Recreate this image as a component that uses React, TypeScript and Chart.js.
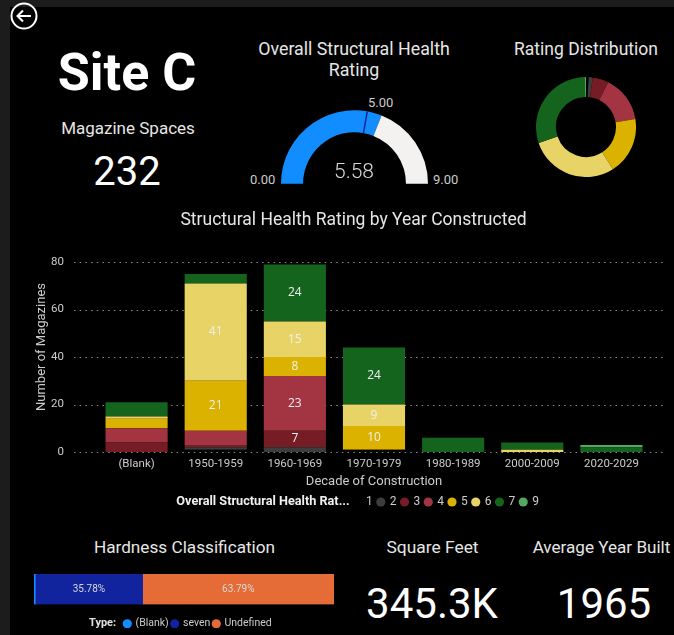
import React, { useEffect, useRef } from "react";
import { Chart, registerables } from "chart.js";

Chart.register(...registerables);

const decades = ["(Blank)", "1950-1959", "1960-1969", "1970-1979", "1980-1989", "2000-2009", "2020-2029"];
const rating1 = [0, 1, 0, 1, 0, 0, 0];
const rating2 = [0, 1, 2, 0, 0, 0, 0];
const rating3 = [4, 1, 7, 0, 0, 0, 0];
const rating4 = [6, 6, 23, 0, 0, 0, 0];
const rating5 = [4, 21, 8, 10, 0, 0, 0];
const rating6 = [1, 41, 15, 9, 0, 1, 0];
const rating7 = [6, 4, 24, 24, 6, 3, 2];
const rating9 = [0, 0, 0, 0, 0, 0, 1];
const ratingNames = ["1", "2", "3", "4", "5", "6", "7", "9"];
const ratingColors = ["#000000", "#3d3d3d", "#751c24", "#a33542", "#dbb200", "#e8d366", "#14641e", "#55a860"];
const distribution = [2, 3, 12, 35, 43, 67, 69, 1];
const gaugeValue = 5.58;
const gaugeMax = 9;
const gaugeTarget = 5;
const hardnessTypes = ["(Blank)", "seven", "Undefined"];
const hardnessValues = [0.43, 35.78, 63.79];
const hardnessColors = ["#118dff", "#12239e", "#e66c37"];

const FONT = "Roboto, sans-serif";
const TEXT = "#e6e6e6";

function barLabels(min: number, format: (v: number) => string, font: string, color: string) {
  return {
    id: "barLabels",
    afterDatasetsDraw(chart: any) {
      const ctx = chart.ctx;
      ctx.save();
      ctx.font = font;
      ctx.fillStyle = color;
      ctx.textAlign = "center";
      ctx.textBaseline = "middle";
      chart.data.datasets.forEach((ds: any, i: number) => {
        chart.getDatasetMeta(i).data.forEach((el: any, j: number) => {
          const v = ds.data[j];
          if (v >= min) {
            const p = el.getCenterPoint();
            ctx.fillText(format(v), p.x, p.y);
          }
        });
      });
      ctx.restore();
    },
  };
}

function shiftBoxes(legendDx: number, legendDy: number, titleDx: number, yTitleUp: number) {
  return {
    id: "shiftBoxes",
    afterLayout(chart: any) {
      chart.legend.left += legendDx;
      chart.legend.right += legendDx;
      chart.legend.top += legendDy;
      chart.legend.bottom += legendDy;
      if (chart.titleBlock) {
        chart.titleBlock.left += titleDx;
        chart.titleBlock.right += titleDx;
      }
      if (yTitleUp && chart.scales.y) chart.scales.y.bottom -= yTitleUp * 2;
    },
  };
}

const wideGrid = {
  id: "wideGrid",
  beforeDatasetsDraw(chart: any) {
    const ctx = chart.ctx;
    const y = chart.scales.y;
    ctx.save();
    ctx.strokeStyle = "#8c8c8c";
    ctx.lineWidth = 1;
    ctx.setLineDash([1.5, 4.2]);
    y.ticks.forEach((t: any) => {
      const py = Math.round(y.getPixelForValue(t.value)) + 0.5;
      ctx.beginPath();
      ctx.moveTo(74, py);
      ctx.lineTo(664, py);
      ctx.stroke();
    });
    ctx.restore();
  },
};

const gaugeMarker = {
  id: "gaugeMarker",
  afterDatasetsDraw(chart: any) {
    const arc = chart.getDatasetMeta(0).data[0];
    const a = Math.PI + (gaugeTarget / gaugeMax) * Math.PI;
    const ctx = chart.ctx;
    ctx.save();
    ctx.strokeStyle = "#12239e";
    ctx.lineWidth = 1.5;
    ctx.beginPath();
    ctx.moveTo(arc.x + Math.cos(a) * arc.innerRadius, arc.y + Math.sin(a) * arc.innerRadius);
    ctx.lineTo(arc.x + Math.cos(a) * arc.outerRadius, arc.y + Math.sin(a) * arc.outerRadius);
    ctx.stroke();
    ctx.restore();
  },
};

function useChart(make: (c: HTMLCanvasElement) => Chart) {
  const ref = useRef<HTMLCanvasElement>(null);
  useEffect(() => {
    const chart = make(ref.current as HTMLCanvasElement);
    return () => chart.destroy();
  }, []);
  return ref;
}

function Label(props: { x: number; y: number; size: number; text: string; weight?: number; color?: string; align?: string }) {
  const { x, y, size, text, weight = 400, color = TEXT, align = "center" } = props;
  const tx = align === "center" ? "-50%" : align === "right" ? "-100%" : "0";
  return (
    <div
      style={{
        position: "absolute",
        left: x,
        top: y,
        transform: `translate(${tx}, -50%)`,
        fontFamily: FONT,
        fontSize: size,
        fontWeight: weight,
        color,
        whiteSpace: "nowrap",
        lineHeight: 1,
      }}
    >
      {text}
    </div>
  );
}

const abs = (left: number, top: number): React.CSSProperties => ({ position: "absolute", left, top });

export default function App() {
  const mainRef = useChart((c) => {
    const series = [rating1, rating2, rating3, rating4, rating5, rating6, rating7, rating9];
    return new Chart(c, {
      type: "bar",
      data: {
        labels: decades,
        datasets: series.map((data, i) => ({
          label: ratingNames[i],
          data,
          backgroundColor: ratingColors[i],
          borderWidth: 0,
          categoryPercentage: 1,
          barPercentage: 0.785,
          clip: false,
        })),
      },
      plugins: [wideGrid, barLabels(7, (v) => String(v), "12px 'Open Sans', sans-serif", "#f0f0f0"), shiftBoxes(121, -2, 28, 10)],
      options: {
        animation: false,
        responsive: false,
        layout: { padding: { left: 0, right: 23, top: 0, bottom: 0 } },
        plugins: {
          tooltip: { enabled: false },
          title: {
            display: true,
            text: "Structural Health Rating by Year Constructed",
            color: TEXT,
            font: { family: FONT, size: 17.5, weight: "normal" },
            padding: { top: 10, bottom: 31 },
          },
          legend: {
            display: true,
            position: "bottom",
            labels: {
              color: "#cccccc",
              font: { family: FONT, size: 12 },
              usePointStyle: true,
              pointStyle: "circle",
              boxWidth: 6,
              boxHeight: 6.5,
              padding: 5,
            },
          },
        },
        scales: {
          x: {
            stacked: true,
            grid: { display: false },
            border: { display: false },
            ticks: { color: "#cccccc", font: { family: FONT, size: 11.5 }, padding: -3, maxRotation: 0, autoSkip: false },
            title: { display: true, text: "Decade of Construction", color: "#cccccc", font: { family: FONT, size: 13 }, padding: { top: 2, bottom: 3 } },
            afterFit: (s: any) => { s.height = 41; },
          },
          y: {
            stacked: true,
            min: 0,
            max: 80,
            grid: { display: false },
            border: { display: false },
            ticks: { color: "#cccccc", font: { family: FONT, size: 11.5 }, stepSize: 20, padding: 25 },
            title: { display: true, text: "Number of Magazines", color: "#cccccc", font: { family: FONT, size: 13 }, padding: { top: 34, bottom: 0 } },
            afterFit: (s: any) => { s.width = 97; },
          },
        },
      },
    } as any);
  });

  const gaugeRef = useChart((c) =>
    new Chart(c, {
      type: "doughnut",
      data: {
        labels: ["Value", "Remaining"],
        datasets: [{ data: [gaugeValue, gaugeMax - gaugeValue], backgroundColor: ["#118dff", "#f3f2f1"], borderWidth: 0 }],
      },
      plugins: [gaugeMarker],
      options: {
        animation: false,
        responsive: false,
        circumference: 180,
        rotation: -90,
        cutout: "70%",
        plugins: { legend: { display: false }, tooltip: { enabled: false } },
      },
    } as any)
  );

  const donutRef = useChart((c) =>
    new Chart(c, {
      type: "doughnut",
      data: {
        labels: ratingNames,
        datasets: [{ data: distribution, backgroundColor: ratingColors, borderWidth: 0 }],
      },
      options: {
        animation: false,
        responsive: false,
        cutout: "60%",
        plugins: { legend: { display: false }, tooltip: { enabled: false } },
      },
    } as any)
  );

  const hardRef = useChart((c) =>
    new Chart(c, {
      type: "bar",
      data: {
        labels: ["Hardness"],
        datasets: hardnessTypes.map((label, i) => ({
          label,
          data: [hardnessValues[i]],
          backgroundColor: hardnessColors[i],
          borderWidth: 0,
          categoryPercentage: 1,
          barPercentage: 1,
        })),
      },
      plugins: [barLabels(5, (v) => v.toFixed(2) + "%", "10px Roboto, sans-serif", "#d9d9d9"), shiftBoxes(14, 11, 0, 0)],
      options: {
        indexAxis: "y",
        animation: false,
        responsive: false,
        plugins: {
          tooltip: { enabled: false },
          legend: {
            display: true,
            position: "bottom",
            labels: {
              color: "#cccccc",
              font: { family: FONT, size: 10.5 },
              usePointStyle: true,
              pointStyle: "circle",
              boxWidth: 6,
              boxHeight: 6.5,
              padding: 3,
            },
          },
        },
        scales: {
          x: { stacked: true, display: false, min: 0, max: 100 },
          y: { stacked: true, display: false },
        },
      },
    } as any)
  );

  return (
    <div style={{ position: "fixed", left: 0, top: 0, width: 674, height: 635, background: "#1c1c1c", overflow: "hidden" }}>
      <div style={{ position: "absolute", left: 10, top: 7, right: 0, bottom: 0, background: "#000" }} />
      <svg width={30} height={30} style={abs(9, 1)}>
        <circle cx={15} cy={15} r={12.5} fill="none" stroke="#fff" strokeWidth={2} />
        <path d="M22 15 H9 M14 9.5 L8.5 15 L14 20.5" fill="none" stroke="#fff" strokeWidth={2} />
      </svg>

      <Label x={127} y={73} size={52} weight={700} color="#fff" text="Site C" />
      <Label x={128} y={128} size={17} text="Magazine Spaces" />
      <Label x={127} y={172} size={40} color="#fff" text="232" />

      <Label x={354} y={49} size={17.8} text="Overall Structural Health" />
      <Label x={354} y={70} size={17.8} text="Rating" />
      <canvas ref={gaugeRef} width={147} height={74} style={abs(281, 110)} />
      <Label x={250} y={179} size={13} color="#cccccc" align="left" text="0.00" />
      <Label x={433} y={179} size={13} color="#cccccc" align="left" text="9.00" />
      <Label x={368} y={102} size={13} color="#cccccc" align="left" text="5.00" />
      <Label x={354} y={171} size={21} weight={300} color="#d9d9d9" text="5.58" />

      <Label x={586} y={50} size={17.5} text="Rating Distribution" />
      <canvas ref={donutRef} width={100} height={100} style={abs(536, 77)} />

      <canvas ref={mainRef} width={674} height={320} style={abs(0, 200)} />
      <Label x={263} y={501} size={12.7} weight={700} color="#f0f0f0" text="Overall Structural Health Rat..." />

      <Label x={184.5} y={548} size={17.2} text="Hardness Classification" />
      <canvas ref={hardRef} width={300} height={54} style={abs(34, 574)} />
      <Label x={89} y={622} size={11} weight={700} color="#e0e0e0" align="left" text="Type:" />

      <Label x={432.5} y={548} size={17.4} text="Square Feet" />
      <Label x={432} y={604} size={42} color="#fff" text="345.3K" />
      <Label x={601.5} y={548} size={17.1} text="Average Year Built" />
      <Label x={604} y={604} size={42} color="#fff" text="1965" />
    </div>
  );
}
